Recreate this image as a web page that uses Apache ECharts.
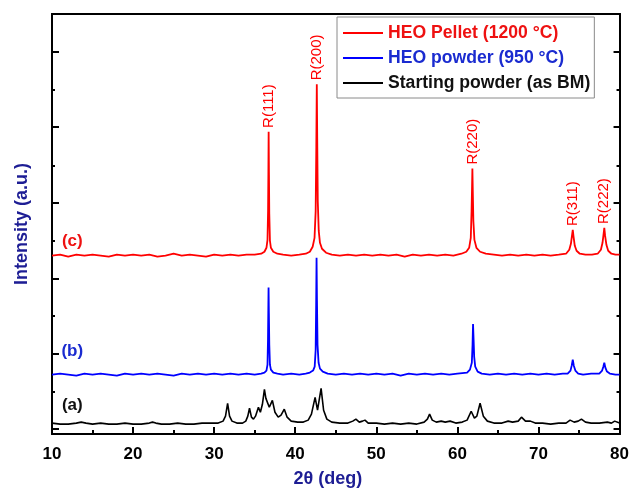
<!DOCTYPE html>
<html>
<head>
<meta charset="utf-8">
<script src="https://cdn.jsdelivr.net/npm/echarts@6/dist/echarts.min.js"></script>
<style>html,body{margin:0;padding:0;background:#fff;}#chart{width:632px;height:493px;}</style>
</head>
<body>
<div id="chart"></div>
<script>
// ---- data (2θ in degrees, intensity in arbitrary units, offset stacked) ----
const xTicks = [10, 20, 30, 40, 50, 60, 70, 80];
const yMajorTicks = [5, 81, 157, 233, 310, 386];
const yMinorTicks = [43, 119, 195, 271, 348];

const seriesNames = ['HEO Pellet (1200 °C)', 'HEO powder (950 °C)', 'Starting powder (as BM)'];
const seriesTags = ['(c)', '(b)', '(a)'];
const tagX = 12.5;
const tagY = [195, 83, 29];

const peakLabels = ['R(111)', 'R(200)', 'R(220)', 'R(311)', 'R(222)'];
const peakPos = [36.72, 42.66, 61.85, 74.23, 78.12];
const pelletPeakTop = [305, 353, 268, 206, 208];

const pellet = [
[10,180],[11,181],[12,179],[13,181],[14,180],[15,181],[16,180],[17,179],[18,181],[19,180],[20,181],[21,180],[22,181],[23,179],[24,180],[25,182],[26,180],[27,181],[28,180],[29,179],[30,181],[31,180],[32,181],[33,180],[34,181],[35,181],
[35.8,182],[36.2,184],[36.45,188],[36.58,196],[36.65,225],[36.69,265],[36.72,305],[36.76,262],[36.8,222],[36.88,195],[37.0,188],[37.3,184],[37.8,182],[38.5,181],[39.5,180],[40.5,181],
[41.3,182],[41.8,184],[42.15,189],[42.38,198],[42.52,225],[42.6,290],[42.66,353],[42.71,300],[42.78,235],[42.9,205],[43.05,193],[43.3,187],[43.8,183],[44.5,181],
[45.5,180],[46.5,181],[47.5,180],[48.5,181],[49.5,180],[50.5,181],[51.5,180],[52.5,181],[53.5,179],[54.5,181],[55.5,180],[56.5,181],[57.5,180],[58.5,181],[59.5,180],
[60.5,182],[61.1,184],[61.45,188],[61.65,198],[61.75,225],[61.81,250],[61.85,268],[61.9,245],[61.97,215],[62.1,196],[62.35,188],[62.8,184],[63.5,182],
[64.5,181],[65.5,180],[66.5,181],[67.5,180],[68.5,181],[69.5,180],[70.5,181],[71.5,180],[72.5,181],
[73.4,182],[73.8,186],[74.0,192],[74.13,200],[74.23,206],[74.33,199],[74.48,190],[74.7,185],[75.1,182],[75.8,181],[76.6,181],
[77.3,182],[77.7,186],[77.9,193],[78.02,201],[78.12,208],[78.22,200],[78.38,191],[78.6,185],[79.0,182],[79.5,181],[80,181]
];

const powder = [
[10,60],[11,61],[12,60],[13,59],[14,61],[15,60],[16,61],[17,60],[18,59],[19,61],[20,60],[21,61],[22,60],[23,61],[24,60],[25,59],[26,61],[27,60],[28,61],[29,60],[30,61],[31,60],[32,61],[33,60],[34,61],[35,60],
[35.8,61],[36.2,62],[36.45,64],[36.58,70],[36.64,95],[36.68,125],[36.71,148],[36.75,122],[36.8,90],[36.88,70],[37.0,65],[37.3,62],[37.8,61],[38.5,60],[39.5,61],[40.5,60],[41.3,61],
[41.8,62],[42.2,64],[42.4,68],[42.52,85],[42.58,130],[42.63,178],[42.68,135],[42.75,90],[42.88,72],[43.05,66],[43.4,63],[44,61],
[45,60],[46,61],[47,60],[48,61],[49,60],[50,61],[51,60],[52,61],[53,59],[54,61],[55,60],[56,61],[57,60],[58,61],[59,60],[60,61],
[61.2,62],[61.55,65],[61.78,72],[61.87,90],[61.93,111],[62.0,95],[62.07,78],[62.2,68],[62.5,63],[63,61],
[64,60],[65,61],[66,60],[67,61],[68,60],[69,61],[70,60],[71,61],[72,60],[73,61],
[73.6,61],[73.95,64],[74.1,69],[74.23,75],[74.36,69],[74.55,64],[74.9,61],[75.5,60],[76.5,61],
[77.5,61],[77.85,64],[78.0,68],[78.12,72],[78.25,67],[78.45,63],[78.8,61],[79.5,60],[80,60]
];

const starting = [
[10,11],[11,10],[12,10],[13,11],[13.6,12],[14.2,11],[15,10],[16,11],[17,10],[18,10],[19,11],[20,10],[21,10],[22,11],[22.4,12],[22.8,11],[23.5,10],[24.5,10],[25.5,11],[26.5,10],[27.5,10],[28.5,11],[29.5,11],[30.5,11],
[31.1,13],[31.4,18],[31.66,31],[31.9,18],[32.2,13],[32.8,11],[33.5,11],[33.9,13],[34.15,18],[34.36,26],[34.6,17],[34.85,15],[35.1,18],[35.46,27],[35.7,22],[35.95,30],[36.2,45],[36.38,36],[36.56,38],[36.8,27],[37.18,34],[37.5,22],[37.9,17],[38.25,19],[38.65,25],[39.0,17],[39.5,13],
[40.3,12],[41.0,12],[41.6,14],[42.0,20],[42.45,37],[42.75,24],[43.19,46],[43.5,24],[43.9,15],[44.5,12],[45.5,11],[46.5,11],[47.1,13],[47.48,15],[47.9,12],[48.3,13],[48.6,14],[49.0,11],
[50,11],[51,10],[52,11],[53,10],[54,11],[55,10],[55.9,12],[56.3,15],[56.57,20],[56.9,14],[57.4,12],[58.0,13],[58.5,12],[59.1,13],[59.8,11],
[60.6,12],[61.2,14],[61.7,23],[62.1,16],[62.4,18],[62.8,31],[63.2,18],[63.7,13],[64.5,11],[65.5,11],[66.26,13],[66.8,12],[67.5,13],[67.9,17],[68.4,13],[69.0,13],[69.6,11],
[70.5,11],[71.5,10],[72.5,11],[73.4,11],[73.9,14],[74.4,12],[74.9,13],[75.3,15],[75.8,12],[76.5,11],[77.5,11],[78.5,12],[79.0,11],[79.4,13],[80,11]
];

const seriesData = [pellet, powder, starting];
const lineColors = ['#ff0000', '#0000ff', '#000000'];
const lineWidths = [1.8, 1.8, 1.6];
const textColors = ['#ee1111', '#1a2bd0', '#111111'];
const axisNameColor = '#1d1d94';

// ---- chart ----
const FONT = '"Liberation Sans", Arial, Helvetica, sans-serif';
const chart = echarts.init(document.getElementById('chart'), null, {renderer: 'canvas'});

function yAxisDef(pos, ticks, len, withName) {
  const a = {
    type: 'value', min: 0, max: 424, position: pos,
    axisLine: {show: true, onZero: false, lineStyle: {color: '#000', width: 2}},
    axisTick: {show: true, inside: true, length: len, customValues: ticks, lineStyle: {color: '#000', width: 2}},
    axisLabel: {show: false},
    splitLine: {show: false}
  };
  if (withName) {
    a.name = 'Intensity (a.u.)';
    a.nameLocation = 'middle';
    a.nameGap = 21;
    a.nameTextStyle = {color: axisNameColor, fontSize: 18, fontWeight: 'bold', fontFamily: FONT};
  }
  return a;
}

const peakMarks = peakPos.map((x, i) => ({
  coord: [x, pelletPeakTop[i] + 4],
  symbol: 'circle', symbolSize: 1,
  itemStyle: {color: 'rgba(0,0,0,0)'},
  label: {show: true, formatter: peakLabels[i], position: 'inside', rotate: 90, align: 'left', verticalAlign: 'middle',
          color: '#ff0000', fontSize: 15, fontFamily: FONT}
}));

const series = seriesData.map((d, i) => {
  const marks = [{
    coord: [tagX, tagY[i]], symbol: 'circle', symbolSize: 1,
    itemStyle: {color: 'rgba(0,0,0,0)'},
    label: {show: true, formatter: seriesTags[i], position: 'inside', color: textColors[i], fontSize: 17, fontWeight: 'bold', fontFamily: FONT}
  }];
  if (i === 0) marks.push(...peakMarks);
  return {
    name: seriesNames[i], type: 'line', data: d, xAxisIndex: 0, yAxisIndex: 0,
    symbol: 'none', showSymbol: false, color: lineColors[i],
    lineStyle: {color: lineColors[i], width: lineWidths[i]},
    z: 3 - i,
    markPoint: {silent: true, animation: false, data: marks}
  };
});

chart.setOption({
  animation: false,
  backgroundColor: '#fff',
  grid: {left: 52, right: 10, top: 14, bottom: 55},
  legend: {
    orient: 'vertical', left: 337, top: 17,
    itemWidth: 40, itemHeight: 2, icon: 'rect', itemGap: 7,
    padding: [7, 4, 6, 6],
    borderColor: '#8a8a8a', borderWidth: 1, backgroundColor: '#fff',
    textStyle: {fontSize: 17.6, fontWeight: 'bold', fontFamily: FONT, lineHeight: 18},
    data: seriesNames.map((n, i) => ({name: n, textStyle: {color: textColors[i]}}))
  },
  xAxis: [{
    type: 'value', min: xTicks[0], max: xTicks[xTicks.length - 1], interval: 10, position: 'bottom',
    axisLine: {show: true, onZero: false, lineStyle: {color: '#000', width: 2}},
    axisTick: {show: true, inside: true, length: 7, lineStyle: {color: '#000', width: 2}},
    minorTick: {show: true, splitNumber: 2, length: 4, lineStyle: {color: '#000', width: 2}},
    axisLabel: {fontSize: 17, fontWeight: 'bold', color: '#000', margin: 12, fontFamily: FONT},
    splitLine: {show: false},
    name: '2θ (deg)', nameLocation: 'middle', nameGap: 36,
    nameTextStyle: {color: axisNameColor, fontSize: 18, fontWeight: 'bold', fontFamily: FONT, padding: [0, 16, 0, 0]}
  }, {
    type: 'value', min: xTicks[0], max: xTicks[xTicks.length - 1], position: 'top',
    axisLine: {show: true, onZero: false, lineStyle: {color: '#000', width: 2}},
    axisTick: {show: false}, axisLabel: {show: false}, splitLine: {show: false}
  }],
  yAxis: [
    yAxisDef('left', yMajorTicks, 7, true),
    yAxisDef('left', yMinorTicks, 3, false),
    yAxisDef('right', yMajorTicks, 6, false),
    yAxisDef('right', yMinorTicks, 3, false)
  ],
  series: series
});
</script>
</body>
</html>
